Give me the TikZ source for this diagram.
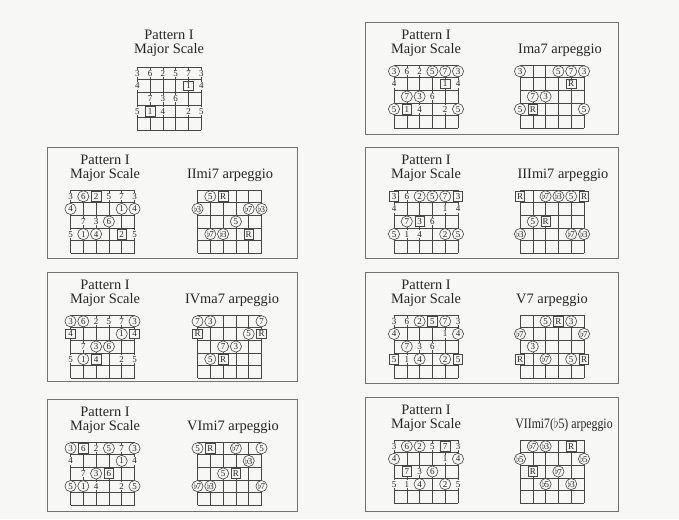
\documentclass[tikz,border=0pt]{standalone}
\usepackage{amsmath}
\usepackage{amssymb}
\usepackage{fontspec}
\setmainfont{Liberation Serif}
\usepackage{tikz}
\usetikzlibrary{shapes.geometric,positioning}
%
\newcommand{\cw}{12.8}
\newcommand{\ch}{12.6}
\newcommand{\flt}{\raisebox{0.3pt}{$\flat$}\kern-1pt}
% one fretboard: #1 = x of low string, #2 = y of top line
\newcommand{\fretgrid}[2]{%
  \foreach \i in {0,...,5} {\draw[gridline] (#1+\i*\cw,#2) -- (#1+\i*\cw,#2+5*\ch);}
  \foreach \j in {0,...,5} {\draw[gridline] (#1,#2+\j*\ch) -- (#1+5*\cw,#2+\j*\ch);}
}
% notes on a fretboard: #1 = name, #2 = x, #3 = y, #4 = string/fret/label/style
\newcommand{\fretnotes}[4]{%
  \foreach \ss/\ff/\lab/\sty in {#4} {\node[\sty] (#1-\ss-\ff) at (#2+\ss*\cw,#3+\ff*\ch-0.5*\ch) {\lab};}
}
\tikzset{
  gridline/.style={draw=cline,line width=0.6pt},
  panel/.style={draw=cbox,line width=0.8pt},
  notebase/.style={font=\fontsize{9}{9}\selectfont,fill=cpaper,text=ctext},
  plainnote/.style={notebase,inner sep=0.7pt},
  circnote/.style={notebase,circle,draw=cline,line width=0.6pt,inner sep=0pt,minimum size=11.2pt},
  rootnote/.style={notebase,rectangle,draw=cline,line width=0.6pt,inner sep=0pt,minimum size=9.5pt},
  titletext/.style={font=\fontsize{14.4}{14.4}\selectfont,text=ctext,anchor=base,inner sep=0pt},
}

\begin{document}
\begin{tikzpicture}[x=1pt,y=-1pt]
%
\useasboundingbox (0,0) rectangle (679,519);
%
\definecolor{cpaper}{rgb}{0.97,0.97,0.96}
\definecolor{ctext}{rgb}{0.15,0.15,0.15}
\definecolor{cline}{rgb}{0.28,0.28,0.28}
\definecolor{cbox}{rgb}{0.45,0.45,0.45}
%
\fill[cpaper] (0,0) rectangle (679,519);
%
\draw[panel] (365,22) rectangle (618,134);
\draw[panel] (365,147) rectangle (618,258);
\draw[panel] (365,272) rectangle (618,383);
\draw[panel] (365,397) rectangle (618,511);
\draw[panel] (47,147) rectangle (297,258);
\draw[panel] (47,272) rectangle (297,381);
\draw[panel] (47,399) rectangle (297,511);
%
\node[titletext] (tl-pat) at (169,39.5) {Pattern I};
\node[titletext] (tl-maj) at (169,53.5) {Major Scale};
\node[titletext] (ra-pat) at (426,39.5) {Pattern I};
\node[titletext] (ra-maj) at (426,53) {Major Scale};
\node[titletext] (ra-arp) at (560,53) {Ima7 arpeggio};
\node[titletext] (rb-pat) at (426,164.5) {Pattern I};
\node[titletext] (rb-maj) at (426,178) {Major Scale};
\node[titletext] (rb-arp) at (563,178) {IIImi7 arpeggio};
\node[titletext] (rc-pat) at (426,289.5) {Pattern I};
\node[titletext] (rc-maj) at (426,303) {Major Scale};
\node[titletext] (rc-arp) at (552,303) {V7 arpeggio};
\node[titletext] (rd-pat) at (426,414.5) {Pattern I};
\node[titletext] (rd-maj) at (426,428) {Major Scale};
\node[titletext] (rd-arp) at (564,428) {\scalebox{0.82}[1]{VIImi7($\flat$5) arpeggio}};
\node[titletext] (la-pat) at (105,164.5) {Pattern I};
\node[titletext] (la-maj) at (105,178) {Major Scale};
\node[titletext] (la-arp) at (230,178) {IImi7 arpeggio};
\node[titletext] (lb-pat) at (105,289.5) {Pattern I};
\node[titletext] (lb-maj) at (105,303) {Major Scale};
\node[titletext] (lb-arp) at (232,303) {IVma7 arpeggio};
\node[titletext] (lc-pat) at (105,416.5) {Pattern I};
\node[titletext] (lc-maj) at (105,430) {Major Scale};
\node[titletext] (lc-arp) at (233,430) {VImi7 arpeggio};
%
\fretgrid{137.3}{67}
\fretgrid{394}{65}
\fretgrid{520}{65}
\fretgrid{394}{190}
\fretgrid{520}{190}
\fretgrid{394}{315}
\fretgrid{520}{315}
\fretgrid{394}{440}
\fretgrid{520}{440}
\fretgrid{70.5}{190}
\fretgrid{197.5}{190}
\fretgrid{70.5}{315}
\fretgrid{197.5}{315}
\fretgrid{70.5}{442}
\fretgrid{197.5}{442}
%
% Pattern I, roots only
\fretnotes{tl}{137.3}{67}{0/1/3/plainnote, 1/1/6/plainnote, 2/1/2/plainnote, 3/1/5/plainnote, 4/1/7/plainnote, 5/1/3/plainnote,
  0/2/4/plainnote, 4/2/1/rootnote, 5/2/4/plainnote,
  1/3/7/plainnote, 2/3/3/plainnote, 3/3/6/plainnote,
  0/4/5/plainnote, 1/4/1/rootnote, 2/4/4/plainnote, 4/4/2/plainnote, 5/4/5/plainnote}
%
% I
\fretnotes{ras}{394}{65}{0/1/3/circnote, 1/1/6/plainnote, 2/1/2/plainnote, 3/1/5/circnote, 4/1/7/circnote, 5/1/3/circnote,
  0/2/4/plainnote, 4/2/1/rootnote, 5/2/4/plainnote,
  1/3/7/circnote, 2/3/3/circnote, 3/3/6/plainnote,
  0/4/5/circnote, 1/4/1/rootnote, 2/4/4/plainnote, 4/4/2/plainnote, 5/4/5/circnote}
\fretnotes{raa}{520}{65}{0/1/3/circnote, 3/1/5/circnote, 4/1/7/circnote, 5/1/3/circnote,
  4/2/R/rootnote,
  1/3/7/circnote, 2/3/3/circnote,
  0/4/5/circnote, 1/4/R/rootnote, 5/4/5/circnote}
%
% III
\fretnotes{rbs}{394}{190}{0/1/3/rootnote, 1/1/6/plainnote, 2/1/2/circnote, 3/1/5/circnote, 4/1/7/circnote, 5/1/3/rootnote,
  0/2/4/plainnote, 4/2/1/plainnote, 5/2/4/plainnote,
  1/3/7/circnote, 2/3/3/rootnote, 3/3/6/plainnote,
  0/4/5/circnote, 1/4/1/plainnote, 2/4/4/plainnote, 4/4/2/circnote, 5/4/5/circnote}
\fretnotes{rba}{520}{190}{0/1/R/rootnote, 2/1/{\flt7}/circnote, 3/1/{\flt3}/circnote, 4/1/5/circnote, 5/1/R/rootnote,
  1/3/5/circnote, 2/3/R/rootnote,
  0/4/{\flt3}/circnote, 4/4/{\flt7}/circnote, 5/4/{\flt3}/circnote}
%
% V
\fretnotes{rcs}{394}{315}{0/1/3/plainnote, 1/1/6/plainnote, 2/1/2/circnote, 3/1/5/rootnote, 4/1/7/circnote, 5/1/3/plainnote,
  0/2/4/circnote, 4/2/1/plainnote, 5/2/4/circnote,
  1/3/7/circnote, 2/3/3/plainnote, 3/3/6/plainnote,
  0/4/5/rootnote, 1/4/1/plainnote, 2/4/4/circnote, 4/4/2/circnote, 5/4/5/rootnote}
\fretnotes{rca}{520}{315}{2/1/5/circnote, 3/1/R/rootnote, 4/1/3/circnote,
  0/2/{\flt7}/circnote, 5/2/{\flt7}/circnote,
  1/3/3/circnote,
  0/4/R/rootnote, 2/4/{\flt7}/circnote, 4/4/5/circnote, 5/4/R/rootnote}
%
% VII
\fretnotes{rds}{394}{440}{0/1/3/plainnote, 1/1/6/circnote, 2/1/2/circnote, 3/1/5/plainnote, 4/1/7/rootnote, 5/1/3/plainnote,
  0/2/4/circnote, 4/2/1/plainnote, 5/2/4/circnote,
  1/3/7/rootnote, 2/3/3/plainnote, 3/3/6/circnote,
  0/4/5/plainnote, 1/4/1/plainnote, 2/4/4/circnote, 4/4/2/circnote, 5/4/5/plainnote}
\fretnotes{rda}{520}{440}{1/1/{\flt7}/circnote, 2/1/{\flt3}/circnote, 4/1/R/rootnote,
  0/2/{\flt5}/circnote, 5/2/{\flt5}/circnote,
  1/3/R/rootnote, 3/3/{\flt7}/circnote,
  2/4/{\flt5}/circnote, 4/4/{\flt3}/circnote}
%
% II
\fretnotes{las}{70.5}{190}{0/1/3/plainnote, 1/1/6/circnote, 2/1/2/rootnote, 3/1/5/plainnote, 4/1/7/plainnote, 5/1/3/plainnote,
  0/2/4/circnote, 4/2/1/circnote, 5/2/4/circnote,
  1/3/7/plainnote, 2/3/3/plainnote, 3/3/6/circnote,
  0/4/5/plainnote, 1/4/1/circnote, 2/4/4/circnote, 4/4/2/rootnote, 5/4/5/plainnote}
\fretnotes{laa}{197.5}{190}{1/1/5/circnote, 2/1/R/rootnote,
  0/2/{\flt3}/circnote, 4/2/{\flt7}/circnote, 5/2/{\flt3}/circnote,
  3/3/5/circnote,
  1/4/{\flt7}/circnote, 2/4/{\flt3}/circnote, 4/4/R/rootnote}
%
% IV
\fretnotes{lbs}{70.5}{315}{0/1/3/circnote, 1/1/6/circnote, 2/1/2/plainnote, 3/1/5/plainnote, 4/1/7/plainnote, 5/1/3/circnote,
  0/2/4/rootnote, 4/2/1/circnote, 5/2/4/rootnote,
  1/3/7/plainnote, 2/3/3/circnote, 3/3/6/circnote,
  0/4/5/plainnote, 1/4/1/circnote, 2/4/4/rootnote, 4/4/2/plainnote, 5/4/5/plainnote}
\fretnotes{lba}{197.5}{315}{0/1/7/circnote, 1/1/3/circnote, 5/1/7/circnote,
  0/2/R/rootnote, 4/2/5/circnote, 5/2/R/rootnote,
  2/3/7/circnote, 3/3/3/circnote,
  1/4/5/circnote, 2/4/R/rootnote}
%
% VI
\fretnotes{lcs}{70.5}{442}{0/1/3/circnote, 1/1/6/rootnote, 2/1/2/plainnote, 3/1/5/circnote, 4/1/7/plainnote, 5/1/3/circnote,
  0/2/4/plainnote, 4/2/1/circnote, 5/2/4/plainnote,
  1/3/7/plainnote, 2/3/3/circnote, 3/3/6/rootnote,
  0/4/5/circnote, 1/4/1/circnote, 2/4/4/plainnote, 4/4/2/plainnote, 5/4/5/circnote}
\fretnotes{lca}{197.5}{442}{0/1/5/circnote, 1/1/R/rootnote, 3/1/{\flt7}/circnote, 5/1/5/circnote,
  4/2/{\flt3}/circnote,
  2/3/5/circnote, 3/3/R/rootnote,
  0/4/{\flt7}/circnote, 1/4/{\flt3}/circnote, 5/4/{\flt7}/circnote}
%
\end{tikzpicture}
\end{document}
